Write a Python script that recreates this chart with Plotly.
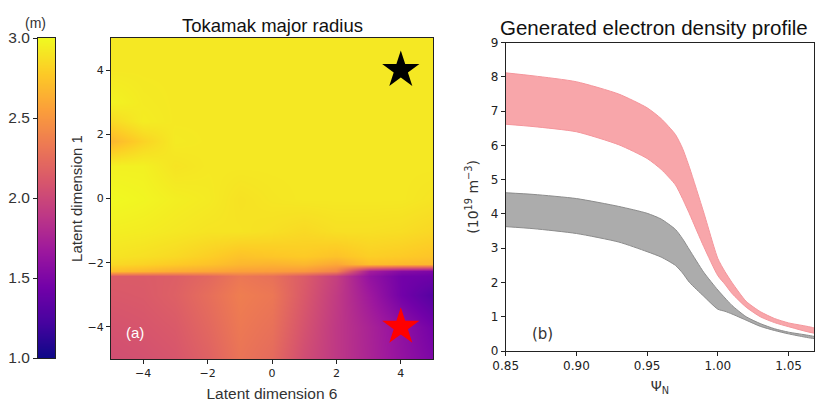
import plotly.graph_objects as go

# ---------------- Heatmap data (Tokamak major radius, m) ----------------
lat6 = [-5, -4, -3, -2, -1, 0, 1, 2, 3, 4, 5]
lat1 = [-5, -4, -3, -2.4, -2.25, -2.05, -1.8, -1, 0, 1, 1.8, 2.4, 3, 4, 5]
radius = [
    [2.05, 2.07, 2.10, 2.18, 2.30, 2.24, 2.04, 1.90, 1.76, 1.62, 1.50],
    [2.08, 2.10, 2.13, 2.22, 2.33, 2.28, 2.08, 1.90, 1.75, 1.60, 1.45],
    [2.12, 2.13, 2.17, 2.26, 2.36, 2.32, 2.12, 1.92, 1.68, 1.45, 1.30],
    [2.14, 2.14, 2.16, 2.22, 2.32, 2.28, 2.14, 1.95, 1.62, 1.45, 1.42],
    [2.72, 2.68, 2.63, 2.60, 2.56, 2.55, 2.52, 2.40, 1.72, 1.55, 1.50],
    [2.85, 2.82, 2.78, 2.74, 2.68, 2.66, 2.68, 2.60, 2.72, 2.70, 2.68],
    [2.90, 2.88, 2.85, 2.80, 2.74, 2.76, 2.78, 2.74, 2.80, 2.78, 2.75],
    [2.95, 2.94, 2.92, 2.90, 2.90, 2.88, 2.85, 2.88, 2.88, 2.87, 2.84],
    [3.00, 2.98, 2.95, 2.93, 2.89, 2.91, 2.92, 2.92, 2.92, 2.92, 2.90],
    [2.96, 2.96, 2.90, 2.92, 2.92, 2.92, 2.92, 2.92, 2.92, 2.92, 2.92],
    [2.68, 2.82, 2.93, 2.92, 2.92, 2.92, 2.92, 2.92, 2.92, 2.92, 2.92],
    [2.85, 2.94, 2.92, 2.92, 2.92, 2.92, 2.92, 2.92, 2.92, 2.92, 2.92],
    [2.97, 2.93, 2.92, 2.92, 2.92, 2.92, 2.92, 2.92, 2.92, 2.92, 2.92],
    [2.92, 2.92, 2.92, 2.92, 2.92, 2.92, 2.92, 2.92, 2.92, 2.92, 2.92],
    [2.92, 2.92, 2.92, 2.92, 2.92, 2.92, 2.92, 2.92, 2.92, 2.92, 2.92],
]
star_x = [4, 4]
star_y = [4, -4]
star_colors = ["black", "red"]

cbar_range = [1.0, 3.0]
cbar_ticks = [1.0, 1.5, 2.0, 2.5, 3.0]

# ---------------- Density profile bands (10^19 m^-3) ----------------
psi = [0.85, 0.87, 0.90, 0.93, 0.95, 0.96, 0.97, 0.975, 0.98, 0.99, 1.00, 1.005, 1.01, 1.02, 1.03, 1.04, 1.05, 1.07]
red_upper = [8.12, 8.03, 7.86, 7.50, 7.10, 6.78, 6.32, 5.92, 5.35, 4.05, 2.70, 2.32, 2.00, 1.45, 1.15, 0.95, 0.82, 0.64]
red_lower = [6.62, 6.55, 6.40, 6.02, 5.62, 5.30, 4.85, 4.45, 4.00, 3.05, 2.20, 1.95, 1.68, 1.28, 1.00, 0.83, 0.71, 0.52]
gray_upper = [4.62, 4.57, 4.45, 4.22, 4.02, 3.85, 3.55, 3.28, 2.95, 2.30, 1.78, 1.55, 1.33, 1.00, 0.80, 0.65, 0.55, 0.40]
gray_lower = [3.63, 3.57, 3.43, 3.18, 2.90, 2.74, 2.50, 2.28, 2.00, 1.60, 1.22, 1.16, 1.08, 0.90, 0.72, 0.60, 0.50, 0.36]

W, H = 815, 402
def px_x(a, b):
    return [a / W, b / W]
def px_y(top, bottom):
    return [1 - bottom / H, 1 - top / H]

fig = go.Figure()

fig.add_trace(go.Heatmap(
    x=lat6, y=lat1, z=radius, colorscale="Plasma", zmin=cbar_range[0], zmax=cbar_range[1],
    zsmooth="best", showscale=False, xaxis="x", yaxis="y"))
fig.add_trace(go.Scatter(
    x=star_x, y=star_y, mode="markers", xaxis="x", yaxis="y", showlegend=False,
    marker=dict(symbol="star", size=28, color=star_colors, line=dict(width=0))))

# colorbar drawn as its own heatmap
fig.add_trace(go.Heatmap(
    x=[0, 1], y=cbar_range, z=[[cbar_range[0], cbar_range[0]], [cbar_range[1], cbar_range[1]]],
    colorscale="Plasma", zmin=cbar_range[0], zmax=cbar_range[1], zsmooth="best",
    showscale=False, xaxis="x3", yaxis="y3", hoverinfo="skip"))

def band(xs, up, lo, fill, edge):
    return go.Scatter(
        x=xs + xs[::-1], y=up + lo[::-1], fill="toself", fillcolor=fill,
        mode="lines", line=dict(color=edge, width=1, shape="spline", smoothing=0.6),
        xaxis="x2", yaxis="y2", showlegend=False)

fig.add_trace(band(psi, red_upper, red_lower, "rgba(248,166,170,1)", "rgba(244,150,156,1)"))
fig.add_trace(band(psi, gray_upper, gray_lower, "rgba(172,172,172,1)", "rgba(140,140,140,1)"))

tickfont_small = dict(family="DejaVu Sans", size=11, color="#222")
axis_common = dict(showline=True, linecolor="#222", linewidth=1, mirror=True, automargin=False,
                   ticks="outside", ticklen=4, tickcolor="#222", showgrid=False, zeroline=False)

fig.update_layout(
    width=W, height=H, margin=dict(l=0, r=0, t=0, b=0),
    paper_bgcolor="white", plot_bgcolor="white",
    font=dict(family="Liberation Sans", color="#222"),
    xaxis=dict(domain=px_x(111, 433), range=[-5, 5], tickvals=[-4, -2, 0, 2, 4],
               ticktext=["\u22124", "\u22122", "0", "2", "4"], tickfont=tickfont_small,
               title=dict(text="Latent dimension 6", font=dict(size=15.5, family="Liberation Sans", color="#333"), standoff=12),
               anchor="y", **axis_common),
    yaxis=dict(domain=px_y(38, 359), range=[-5, 5], tickvals=[-4, -2, 0, 2, 4],
               ticktext=["\u22124", "\u22122", "0", "2", "4"], tickfont=tickfont_small,
               title=dict(text="Latent dimension 1", font=dict(size=15, family="Liberation Sans", color="#333"), standoff=1),
               anchor="x", **axis_common),
    xaxis2=dict(domain=[505.7 / W, 814 / W], range=[0.85, 1.068], tickvals=[0.85, 0.90, 0.95, 1.00, 1.05],
                tickformat=".2f", tickfont=dict(family="DejaVu Sans", size=12, color="#222"),
                title=dict(text="\u03a8<sub>N</sub>", font=dict(size=14, family="DejaVu Sans", color="#333"), standoff=8),
                anchor="y2", **axis_common),
    yaxis2=dict(domain=px_y(42.7, 351), range=[0, 9], dtick=1,
                tickfont=dict(family="DejaVu Sans", size=12, color="#222"),
                title=dict(text="(10<sup>19</sup> m<sup>\u22123</sup>)", font=dict(size=14, family="DejaVu Sans", color="#333"), standoff=8),
                anchor="x2", **axis_common),
    xaxis3=dict(domain=px_x(38, 55), range=[0, 1], showticklabels=False, ticks="", automargin=False,
                showline=True, linecolor="#222", mirror=True, showgrid=False, zeroline=False, anchor="y3"),
    yaxis3=dict(domain=px_y(38, 358), range=cbar_range, tickvals=cbar_ticks, tickformat=".1f",
                tickfont=dict(family="Liberation Sans", size=15.5, color="#333"), ticks="outside", ticklen=4,
                tickcolor="#222", showline=True, linecolor="#222", mirror=True, showgrid=False,
                zeroline=False, anchor="x3", automargin=False),
    annotations=[
        dict(text="Tokamak major radius", x=0.5, y=1.0, xref="x domain", yref="y domain",
             yshift=25, showarrow=False, font=dict(size=18.5, family="Liberation Sans", color="#111")),
        dict(text="Generated electron density profile", x=0.5, y=1.0, xref="x2 domain", yref="y2 domain",
             xshift=-6, yshift=29, showarrow=False, font=dict(size=20.5, family="Liberation Sans", color="#111")),
        dict(text="(m)", x=0.5, y=1.0, xref="x3 domain", yref="y3 domain", xshift=-11, yshift=25,
             showarrow=False, font=dict(size=14, family="Liberation Sans", color="#333")),
        dict(text="(a)", x=0.04, y=0.05, xref="x domain", yref="y domain", xanchor="left", yanchor="bottom",
             showarrow=False, font=dict(size=15, family="Liberation Sans", color="white")),
        dict(text="(b)", x=0.08, y=0.02, xref="x2 domain", yref="y2 domain", xanchor="left", yanchor="bottom",
             showarrow=False, font=dict(size=15, family="DejaVu Sans", color="#333")),
    ],
)

fig.write_html("out.html")
